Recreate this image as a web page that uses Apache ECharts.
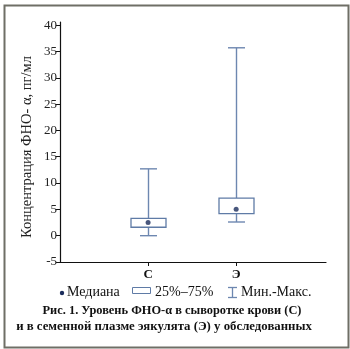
<!DOCTYPE html>
<html>
<head>
<meta charset="utf-8">
<script src="https://cdn.jsdelivr.net/npm/echarts@6/dist/echarts.min.js"></script>
<style>
  html, body { margin: 0; padding: 0; background: #fff; }
  #chart { width: 350px; height: 349px; }
</style>
</head>
<body>
<div id="chart"></div>
<script>
// Groups: serum (С) and seminal plasma (Э)
const groups = ['С', 'Э'];
const groupPos = [1, 2];
// TNF-α concentration summaries, pg/ml
const minVals = [0, 2.6];
const q1Vals = [1.6, 4.2];
const medianVals = [2.5, 5.0];
const q3Vals = [3.3, 7.15];
const maxVals = [12.7, 35.7];
const yTicks = [-5, 0, 5, 10, 15, 20, 25, 30, 35, 40];

const serif = '"Liberation Serif", "DejaVu Serif", serif';
const boxColor = '#5f7ba6';
const whiskerColor = '#6d87b0';
const dotColor = '#1b2d5c';

const boxData = groupPos.map((x, i) => [x, minVals[i], q1Vals[i], medianVals[i], q3Vals[i], maxVals[i]]);
const medianData = groupPos.map((x, i) => [x, medianVals[i]]);

const chart = echarts.init(document.getElementById('chart'), null, { renderer: 'canvas' });

function renderBox(params, api) {
  const x = api.value(0);
  const pMin = api.coord([x, api.value(1)]);
  const pQ1 = api.coord([x, api.value(2)]);
  const pQ3 = api.coord([x, api.value(4)]);
  const pMax = api.coord([x, api.value(5)]);
  const cx = Math.round(pMin[0]) + 0.5;
  const boxW = 35, capW = 17;
  const lineStyle = { stroke: whiskerColor, lineWidth: 1.4, fill: null };
  return {
    type: 'group',
    children: [
      { type: 'line', shape: { x1: cx, y1: pMax[1], x2: cx, y2: pQ3[1] }, style: lineStyle },
      { type: 'line', shape: { x1: cx, y1: pQ1[1], x2: cx, y2: pMin[1] }, style: lineStyle },
      { type: 'line', shape: { x1: cx - capW / 2, y1: pMax[1], x2: cx + capW / 2, y2: pMax[1] }, style: lineStyle },
      { type: 'line', shape: { x1: cx - capW / 2, y1: pMin[1], x2: cx + capW / 2, y2: pMin[1] }, style: lineStyle },
      {
        type: 'rect',
        shape: { x: cx - boxW / 2, y: pQ3[1], width: boxW, height: pQ1[1] - pQ3[1] },
        style: { stroke: boxColor, lineWidth: 1.3, fill: '#fff' }
      }
    ]
  };
}

chart.setOption({
  animation: false,
  backgroundColor: '#fff',
  grid: { left: 60, right: 24, top: 22, bottom: 87, containLabel: false },
  xAxis: {
    type: 'value',
    min: 0,
    max: 3.02,
    splitLine: { show: false },
    axisLine: { show: true, onZero: false, lineStyle: { color: '#111', width: 1.2 } },
    axisTick: { show: true, customValues: groupPos, length: 4, lineStyle: { color: '#111' } },
    axisLabel: {
      customValues: groupPos,
      margin: 6,
      formatter: v => groups[groupPos.indexOf(Math.round(v))] || '',
      fontFamily: serif, fontSize: 13, fontWeight: 'bold', color: '#111'
    }
  },
  yAxis: {
    type: 'value',
    min: -5,
    max: 40.6,
    splitLine: { show: false },
    axisLine: { show: true, onZero: false, lineStyle: { color: '#111', width: 1.2 } },
    axisTick: { show: true, customValues: yTicks, length: 4, lineStyle: { color: '#111' } },
    axisLabel: {
      customValues: yTicks,
      margin: 3,
      fontFamily: serif, fontSize: 13, color: '#222'
    }
  },
  series: [
    {
      name: 'Мин.-Макс.',
      type: 'custom',
      renderItem: renderBox,
      encode: { x: 0, y: [1, 2, 3, 4, 5] },
      data: boxData,
      z: 2
    },
    {
      name: 'Медиана',
      type: 'scatter',
      symbol: 'circle',
      symbolSize: 5,
      itemStyle: { color: dotColor },
      data: medianData,
      z: 3
    }
  ],
  graphic: [
    // outer frame
    {
      type: 'rect', left: 2, top: 3, silent: true,
      shape: { width: 344, height: 342 },
      style: { fill: null, stroke: '#6f6f66', lineWidth: 2 }
    },
    // y-axis title
    {
      type: 'text', x: 27, y: 147, rotation: Math.PI / 2,
      style: {
        text: 'Концентрация ФНО- α, пг/мл', font: '14.5px ' + serif, fill: '#222',
        align: 'center', verticalAlign: 'middle'
      }
    },
    // legend
    { type: 'circle', shape: { cx: 62, cy: 293, r: 2.2 }, style: { fill: dotColor } },
    { type: 'text', left: 67, top: 285, style: { text: 'Медиана', font: '14px ' + serif, fill: '#111' } },
    { type: 'rect', shape: { x: 132.5, y: 287.5, width: 18, height: 6 }, style: { fill: '#fff', stroke: boxColor, lineWidth: 1 } },
    { type: 'text', left: 155, top: 285, style: { text: '25%–75%', font: '14px ' + serif, fill: '#111' } },
    { type: 'line', shape: { x1: 232.5, y1: 287, x2: 232.5, y2: 298 }, style: { stroke: whiskerColor, lineWidth: 1.3 } },
    { type: 'line', shape: { x1: 228, y1: 287.5, x2: 237, y2: 287.5 }, style: { stroke: whiskerColor, lineWidth: 1.3 } },
    { type: 'line', shape: { x1: 228, y1: 297.5, x2: 237, y2: 297.5 }, style: { stroke: whiskerColor, lineWidth: 1.3 } },
    { type: 'text', left: 241, top: 285, style: { text: 'Мин.-Макс.', font: '14px ' + serif, fill: '#111' } },
    // caption
    {
      type: 'text', x: 172, y: 311,
      style: {
        text: 'Рис. 1. Уровень ФНО-α в сыворотке крови (С)', font: 'bold 12.4px ' + serif, fill: '#111',
        align: 'center', verticalAlign: 'middle'
      }
    },
    {
      type: 'text', x: 164, y: 327,
      style: {
        text: 'и в семенной плазме эякулята (Э) у обследованных', font: 'bold 12.8px ' + serif, fill: '#111',
        align: 'center', verticalAlign: 'middle'
      }
    }
  ]
});
</script>
</body>
</html>
